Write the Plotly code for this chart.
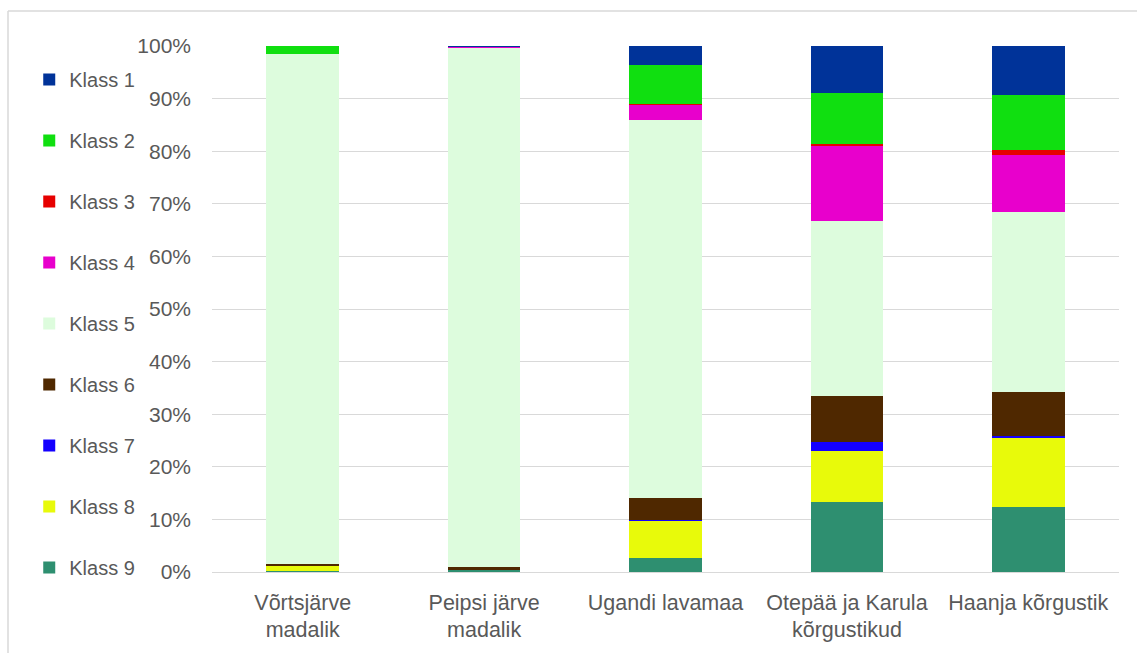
import plotly.graph_objects as go

# Landscape regions (x axis categories)
regions = [
    "Võrtsjärve<br>madalik",
    "Peipsi järve<br>madalik",
    "Ugandi lavamaa",
    "Otepää ja Karula<br>kõrgustikud",
    "Haanja kõrgustik",
]

# Share of each class per region (fractions of 1)
klass_1 = [0.000, 0.0006, 0.0375, 0.090, 0.093]
klass_2 = [0.015, 0.000, 0.073, 0.096, 0.105]
klass_3 = [0.000, 0.000, 0.002, 0.003, 0.009]
klass_4 = [0.000, 0.0019, 0.028, 0.144, 0.108]
klass_5 = [0.969, 0.9885, 0.719, 0.333, 0.342]
klass_6 = [0.005, 0.006, 0.042, 0.0875, 0.084]
klass_7 = [0.000, 0.000, 0.002, 0.017, 0.003]
klass_8 = [0.009, 0.000, 0.070, 0.097, 0.132]
klass_9 = [0.002, 0.003, 0.027, 0.1325, 0.124]

# Stack from the bottom (Klass 9) to the top (Klass 1)
series = [
    ("Klass 9", klass_9, "#2E8F70", 9),
    ("Klass 8", klass_8, "#E8FA0A", 8),
    ("Klass 7", klass_7, "#1400FF", 7),
    ("Klass 6", klass_6, "#4F2800", 6),
    ("Klass 5", klass_5, "#DDFCDD", 5),
    ("Klass 4", klass_4, "#E800CC", 4),
    ("Klass 3", klass_3, "#E60000", 3),
    ("Klass 2", klass_2, "#10DF10", 2),
    ("Klass 1", klass_1, "#003399", 1),
]

font_family = "Liberation Sans, Arial, sans-serif"
text_color = "#595959"

fig = go.Figure()
for name, values, color, rank in series:
    fig.add_trace(go.Bar(
        x=regions,
        y=values,
        name=name,
        legendgroup=name,
        legendrank=rank,
        marker=dict(color=color, line=dict(width=0)),
    ))

fig.update_layout(
    barmode="stack",
    bargap=0.6,
    width=1137,
    height=653,
    margin=dict(l=212, r=18, t=46, b=81),
    paper_bgcolor="white",
    plot_bgcolor="white",
    font=dict(family=font_family, size=20, color=text_color),
    showlegend=True,
    legend=dict(
        traceorder="grouped",
        tracegroupgap=32,
        maxheight=653,
        x=-0.2015,
        xanchor="left",
        y=1 - 14 / 526,
        yanchor="top",
        bgcolor="rgba(0,0,0,0)",
        font=dict(family=font_family, size=20, color=text_color),
    ),
    xaxis=dict(
        showgrid=False,
        showline=False,
        ticks="",
        ticklabelstandoff=15,
        tickfont=dict(family=font_family, size=21.5, color=text_color),
    ),
    yaxis=dict(
        range=[0, 1],
        dtick=0.1,
        tickformat=".0%",
        showgrid=True,
        gridcolor="#D9D9D9",
        gridwidth=1,
        zeroline=True,
        zerolinecolor="#D9D9D9",
        zerolinewidth=1,
        ticks="",
        ticklabelstandoff=20,
        tickfont=dict(family=font_family, size=21, color=text_color),
    ),
    shapes=[
        # outer chart frame (left and top edges)
        dict(type="line", xref="paper", yref="paper",
             x0=(8 - 212) / 907, x1=(8 - 212) / 907,
             y0=(572 - 11) / 526, y1=(572 - 660) / 526,
             line=dict(color="#D9D9D9", width=1.5)),
        dict(type="line", xref="paper", yref="paper",
             x0=(8 - 212) / 907, x1=(1140 - 212) / 907,
             y0=(572 - 11) / 526, y1=(572 - 11) / 526,
             line=dict(color="#D9D9D9", width=1.5)),
    ],
)

fig.write_html("out.html")
